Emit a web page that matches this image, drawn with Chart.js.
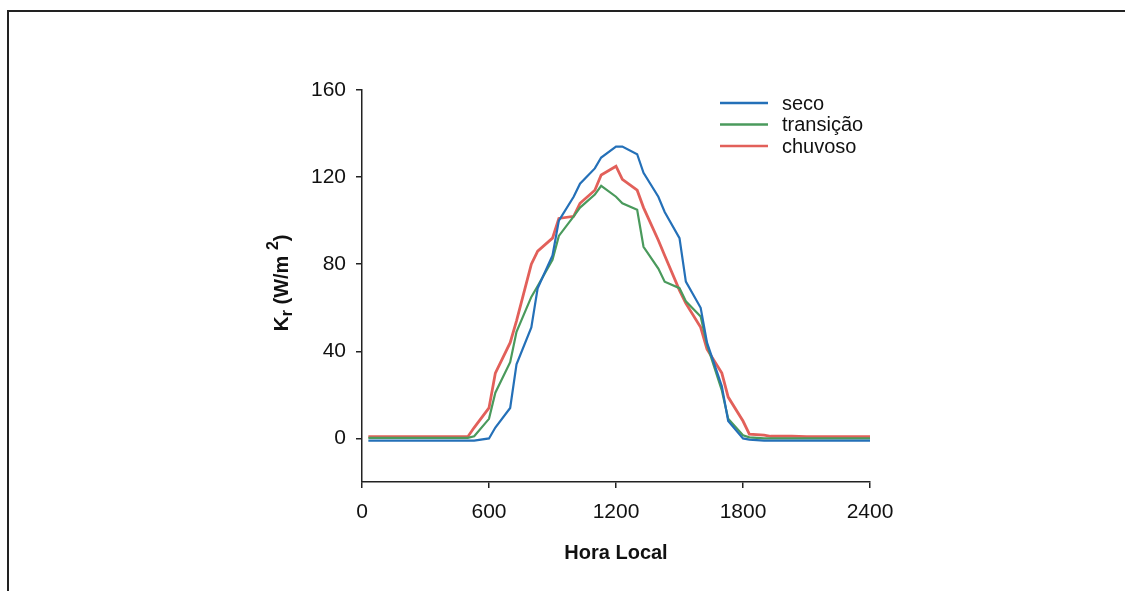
<!DOCTYPE html>
<html>
<head>
<meta charset="utf-8">
<script src="https://cdn.jsdelivr.net/npm/chart.js@4.4.0/dist/chart.umd.min.js"></script>
<style>
  html, body { margin: 0; padding: 0; background: #fff; }
  #wrap { position: relative; width: 1125px; height: 591px; overflow: hidden; }
  #frame { position: absolute; left: 7px; top: 10px; width: 1200px; height: 700px;
           border-top: 2px solid #222; border-left: 2px solid #222; }
  canvas { position: absolute; left: 0; top: 0; }
</style>
</head>
<body>
<div id="wrap">
  <div id="frame"></div>
  <canvas id="kChart" width="1125" height="591"></canvas>
</div>
<script>
// Hora local (HHMM), dados a cada meia hora
const hours = [30, 100, 130, 200, 230, 300, 330, 400, 430, 500, 530, 600,
               630, 700, 730, 800, 830, 900, 930, 1000, 1030, 1100, 1130, 1200,
               1230, 1300, 1330, 1400, 1430, 1500, 1530, 1600, 1630, 1700, 1730, 1800,
               1830, 1900, 1930, 2000, 2030, 2100, 2130, 2200, 2230, 2300, 2330, 2400];

const seco = [-1, -1, -1, -1, -1, -1, -1, -1, -1, -1, -1, 0,
              5, 14, 34, 51, 69, 84, 100, 111, 117, 124, 129, 134,
              134, 130.5, 122, 111, 104, 92, 72, 60, 44, 24, 8, 0,
              -0.5, -1, -1, -1, -1, -1, -1, -1, -1, -1, -1, -1];

const transicao = [0.3, 0.3, 0.3, 0.3, 0.3, 0.3, 0.3, 0.3, 0.3, 0.3, 1, 9,
                   21, 35, 49, 65, 70, 82, 93, 102, 106, 112, 116, 111,
                   108, 105, 88, 78, 72, 69, 63, 56, 43, 22, 9, 1.5,
                   0.5, 0, 0, 0, 0, 0, 0, 0, 0, 0, 0, 0];

const chuvoso = [0.8, 0.8, 0.8, 0.8, 0.8, 0.8, 0.8, 0.8, 0.8, 0.8, 5, 14,
                 30, 44, 54, 80, 86, 92, 101, 102, 108, 114, 121, 125,
                 119, 114, 106, 91, 84, 68, 62, 51, 41, 30, 19, 8,
                 2, 1.5, 1, 1, 1, 0.8, 0.8, 0.8, 0.8, 0.8, 0.8, 0.8];

const xTicks = [0, 600, 1200, 1800, 2400];
const yTicks = [0, 40, 80, 120, 160];

const seriesNames = ['seco', 'transição', 'chuvoso'];
const seriesColors = ['#2470b8', '#4a9a5c', '#e2605a'];

const FONT = 'Liberation Sans, Arial, sans-serif';

function toPoints(vals) {
    return hours.map((h, i) => ({ x: h, y: vals[i] }));
}

// legenda e títulos dos eixos desenhados à mão
const decorPlugin = {
    id: 'decor',
    afterDraw(chart) {
        const ctx = chart.ctx;
        const area = chart.chartArea;
        ctx.save();

        // legenda
        ctx.font = '20px ' + FONT;
        ctx.textBaseline = 'middle';
        ctx.textAlign = 'left';
        chart.data.datasets.forEach((ds, i) => {
            const y = 103 + i * 21.5;
            ctx.strokeStyle = ds.borderColor;
            ctx.lineWidth = 2.5;
            ctx.beginPath();
            ctx.moveTo(720, y);
            ctx.lineTo(768, y);
            ctx.stroke();
            ctx.fillStyle = '#111';
            ctx.fillText(ds.label, 782, y + 1);
        });

        // título do eixo x
        ctx.font = 'bold 20px ' + FONT;
        ctx.textAlign = 'center';
        ctx.fillStyle = '#111';
        ctx.fillText('Hora Local', (area.left + area.right) / 2, 553);

        // título do eixo y: K_r (W/m^2)
        ctx.translate(282, 283);
        ctx.rotate(-Math.PI / 2);
        const parts = [
            { t: 'K', f: 'bold 21px ', dy: 0 },
            { t: 'r', f: 'bold 16px ', dy: 6 },
            { t: ' (W/m ', f: 'bold 20px ', dy: 0 },
            { t: '2', f: 'bold 16px ', dy: -8 },
            { t: ')', f: 'bold 20px ', dy: 0 }
        ];
        let total = 0;
        parts.forEach(p => { ctx.font = p.f + FONT; total += ctx.measureText(p.t).width; });
        let x = -total / 2;
        ctx.textAlign = 'left';
        parts.forEach(p => {
            ctx.font = p.f + FONT;
            ctx.fillText(p.t, x, p.dy);
            x += ctx.measureText(p.t).width;
        });
        ctx.restore();
    }
};

const ctx = document.getElementById('kChart').getContext('2d');
const kChart = new Chart(ctx, {
    type: 'line',
    data: {
        datasets: [
            { label: seriesNames[0], data: toPoints(seco), borderColor: seriesColors[0], borderWidth: 2.2 },
            { label: seriesNames[1], data: toPoints(transicao), borderColor: seriesColors[1], borderWidth: 2.2 },
            { label: seriesNames[2], data: toPoints(chuvoso), borderColor: seriesColors[2], borderWidth: 2.8 }
        ]
    },
    options: {
        responsive: false,
        animation: false,
        events: [],
        elements: {
            point: { radius: 0 },
            line: { tension: 0, fill: false }
        },
        layout: {
            padding: { left: 0, top: 90, right: 255, bottom: 0 }
        },
        plugins: {
            legend: { display: false },
            tooltip: { enabled: false },
            title: { display: false }
        },
        scales: {
            x: {
                type: 'linear',
                min: 0,
                max: 2400,
                afterBuildTicks: s => { s.ticks = xTicks.map(v => ({ value: v })); },
                afterFit: s => { s.height = 109; },
                ticks: {
                    color: '#111',
                    font: { family: FONT, size: 21 },
                    padding: 12,
                    maxRotation: 0,
                    callback: v => String(v)
                },
                grid: {
                    drawOnChartArea: false,
                    drawTicks: true,
                    tickLength: 6,
                    color: '#222',
                    lineWidth: 1.5
                },
                border: { display: true, color: '#222', width: 1.5 }
            },
            y: {
                type: 'linear',
                min: -20,
                max: 160,
                afterBuildTicks: s => { s.ticks = yTicks.map(v => ({ value: v })); },
                afterFit: s => { s.width = 362; },
                ticks: {
                    color: '#111',
                    font: { family: FONT, size: 21 },
                    padding: 10,
                    callback: v => String(v)
                },
                grid: {
                    drawOnChartArea: false,
                    drawTicks: true,
                    tickLength: 6,
                    color: '#222',
                    lineWidth: 1.5
                },
                border: { display: true, color: '#222', width: 1.5 }
            }
        }
    },
    plugins: [decorPlugin]
});
</script>
</body>
</html>
